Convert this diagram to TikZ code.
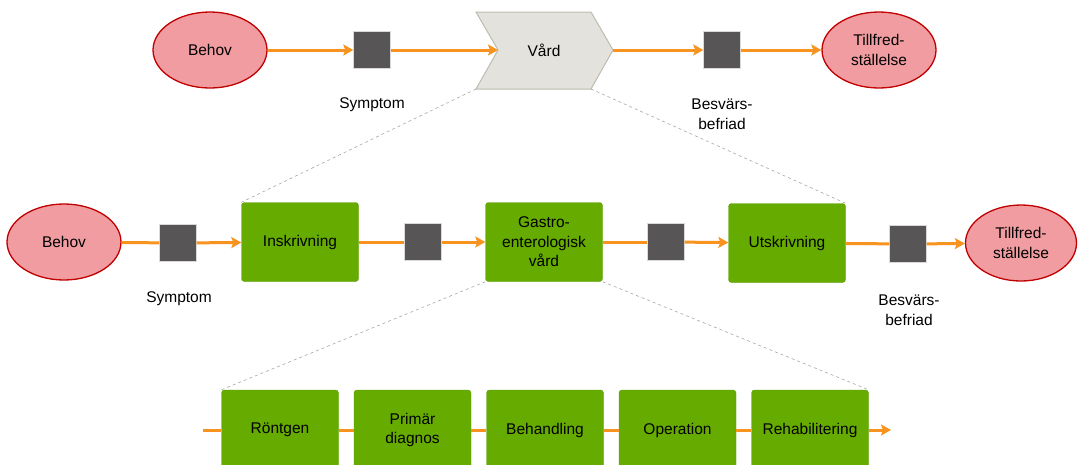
\documentclass[tikz,border=0pt]{standalone}
\usepackage{fontspec}
\setmainfont{Liberation Sans}
\usetikzlibrary{arrows.meta,shapes.geometric}
\definecolor{flowor}{HTML}{F7931E}
\definecolor{goalfill}{HTML}{F09CA1}
\definecolor{goaldraw}{HTML}{C00000}
\definecolor{stepfill}{HTML}{66AC00}
\definecolor{stepdraw}{HTML}{5C9C00}
\definecolor{gatefill}{HTML}{575555}
\definecolor{chevfill}{HTML}{E3E2DD}
\definecolor{chevdraw}{HTML}{BDBCAF}
\begin{document}
\begin{tikzpicture}[x=1pt,y=-1pt,
    every node/.style={font=\fontsize{15.5}{19.5}\selectfont,align=center},
    goal/.style={ellipse,draw=goaldraw,fill=goalfill,line width=1.3pt,minimum width=114pt,minimum height=76pt,inner sep=0pt},
    gate/.style={draw=black!15,fill=gatefill,minimum size=37pt,inner sep=0pt},
    stepbox/.style={rounded corners=3pt,draw=stepdraw,fill=stepfill,minimum width=117pt,minimum height=79pt,inner sep=0pt},
    flow/.style={draw=flowor,line width=3pt},
    flowto/.style={flow,-{Stealth[length=10pt,width=11pt,inset=2pt]}},
    zoomline/.style={draw=black!35,dashed,line width=0.6pt}]
    \useasboundingbox (0,0) rectangle (1078,464);
    \clip (0,0) rectangle (1078,464);

    % top row
    \node[goal] (behov1) at (210,50) {Behov};
    \node[gate] (symp1) at (372,50) {};
    \coordinate (vardnw) at (476,12);
    \coordinate (vardne) at (591,12);
    \coordinate (vardout) at (613,50);
    \coordinate (vardse) at (591,89);
    \coordinate (vardsw) at (476,89);
    \coordinate (vardin) at (498,50);
    \filldraw[fill=chevfill,draw=chevdraw,line width=1pt] (vardnw) -- (vardne) -- (vardout) -- (vardse) -- (vardsw) -- (vardin) -- cycle;
    \node (vard) at (544,50) {Vård};
    \node[gate] (besv1) at (722,50) {};
    \node[goal] (nojd1) at (879,50) {Tillfred-\\ställelse};
    \node (symptxt1) at (372,105) {Symptom};
    \node (besvtxt1) at (722,114) {Besvärs-\\befriad};
    \draw[flowto] (behov1) -- (symp1);
    \draw[flowto] (symp1) -- (vardin);
    \draw[flowto] (vardout) -- (besv1);
    \draw[flowto] (besv1) -- (nojd1);

    % middle row
    \node[goal] (behov2) at (64,242) {Behov};
    \node[gate] (symp2) at (178,243) {};
    \node[stepbox] (inskr) at (300,242) {Inskrivning};
    \node[gate] (gate2) at (423,242) {};
    \node[stepbox] (gastro) at (544,242) {Gastro-\\enterologisk\\vård};
    \node[gate] (gate3) at (666,242) {};
    \node[stepbox] (utskr) at (787,243) {Utskrivning};
    \node[gate] (besv2) at (908,244) {};
    \node[goal,minimum width=111pt] (nojd2) at (1021,243) {Tillfred-\\ställelse};
    \node (symptxt2) at (179,299) {Symptom};
    \node (besvtxt2) at (909,310) {Besvärs-\\befriad};
    \draw[flow] (behov2) -- (symp2);
    \draw[flowto] (symp2) -- (inskr);
    \draw[flow] (inskr) -- (gate2);
    \draw[flowto] (gate2) -- (gastro);
    \draw[flow] (gastro) -- (gate3);
    \draw[flowto] (gate3) -- (utskr);
    \draw[flow] (utskr) -- (besv2);
    \draw[flowto] (besv2) -- (nojd2);

    % bottom row
    \foreach \name/\txt [count=\i from 0] in {rontgen/Röntgen, primar/{Primär\\diagnos}, behandl/Behandling, oper/Operation, rehab/Rehabilitering}
      \node[stepbox,minimum height=80pt] (\name) at (280+132.5*\i,430) {\txt};
    \coordinate (flowstart) at (203,430);
    \coordinate (flowend) at (891,430);
    \draw[flow] (flowstart) -- (rontgen);
    \draw[flow] (rontgen) -- (primar);
    \draw[flow] (primar) -- (behandl);
    \draw[flow] (behandl) -- (oper);
    \draw[flow] (oper) -- (rehab);
    \draw[flowto] (rehab) -- (flowend);

    % zoom lines
    \draw[zoomline] (vardsw) -- (inskr.north west);
    \draw[zoomline] (vardse) -- (utskr.north east);
    \draw[zoomline] (gastro.south west) -- (rontgen.north west);
    \draw[zoomline] (gastro.south east) -- (rehab.north east);
  \end{tikzpicture}
\end{document}
